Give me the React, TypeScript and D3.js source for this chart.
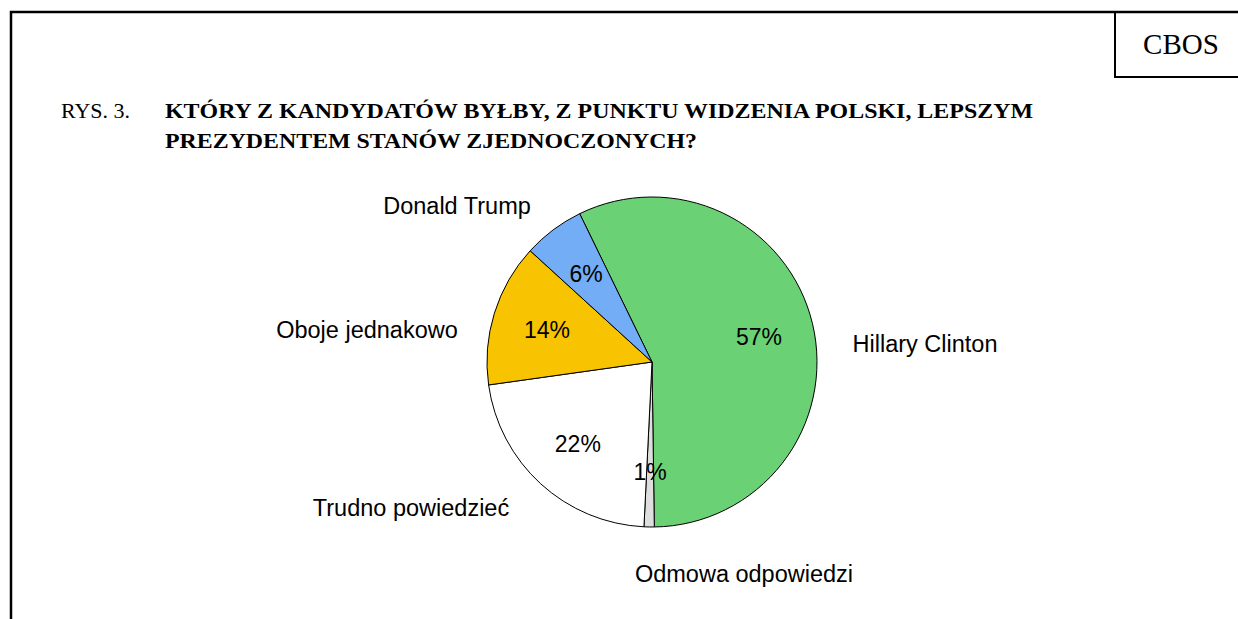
import React, { useEffect, useRef } from 'react'
import * as d3 from 'd3'

// Dane (CBOS, RYS. 3.)
const categories = ['Hillary Clinton', 'Odmowa odpowiedzi', 'Trudno powiedzieć', 'Oboje jednakowo', 'Donald Trump']
const values = [57, 1, 22, 14, 6]
const colors = ['#6ad175', '#dedede', '#ffffff', '#f8c300', '#72adf6']

const titleLines = ['KTÓRY Z KANDYDATÓW BYŁBY, Z PUNKTU WIDZENIA POLSKI, LEPSZYM', 'PREZYDENTEM STANÓW ZJEDNOCZONYCH?']
const titleWidths = [868, 532]

// położenie etykiet kategorii (środek tekstu, linia bazowa) względem środka koła
const labelOffsets = [
  [273, -10],
  [92, 220],
  [-241, 154],
  [-285, -24],
  [-195, -148],
]

const App = () => {
  const ref = useRef(null)

  useEffect(() => {
    const width = 1238,
      height = 619,
      cx = 652,
      cy = 362,
      r = 165

    const svg = d3.select(ref.current)
    svg.selectAll('*').remove()

    const serif = '"Liberation Serif", "Times New Roman", serif'
    const sans = '"Liberation Sans", Arial, sans-serif'

    // ramka
    svg.append('path')
      .attr('d', `M11,${height} V12 H${width}`)
      .attr('fill', 'none')
      .attr('stroke', '#000')
      .attr('stroke-width', 2.5)
    svg.append('path')
      .attr('d', `M1115,12 V77 H${width}`)
      .attr('fill', 'none')
      .attr('stroke', '#000')
      .attr('stroke-width', 2)
    svg.append('text')
      .attr('x', 1181)
      .attr('y', 54)
      .attr('text-anchor', 'middle')
      .attr('font-family', serif)
      .attr('font-size', 29)
      .text('CBOS')

    // tytuł
    svg.append('text')
      .attr('x', 61)
      .attr('y', 118)
      .attr('font-family', serif)
      .attr('font-size', 22)
      .text('RYS. 3.')
    svg.selectAll('text.title')
      .data(titleLines)
      .join('text')
      .attr('class', 'title')
      .attr('x', 165)
      .attr('y', (d, i) => 118 + i * 30)
      .attr('font-family', serif)
      .attr('font-weight', 'bold')
      .attr('font-size', 22)
      .attr('textLength', (d, i) => titleWidths[i])
      .attr('lengthAdjust', 'spacingAndGlyphs')
      .text(d => d)

    // koło
    const start = -26 * Math.PI / 180
    const pie = d3.pie().sort(null).value(d => d).startAngle(start).endAngle(start + 2 * Math.PI)
    const arcs = pie(values)
    const arc = d3.arc().innerRadius(0).outerRadius(r)

    const g = svg.append('g').attr('transform', `translate(${cx},${cy})`)

    g.selectAll('path')
      .data(arcs)
      .join('path')
      .attr('d', arc)
      .attr('fill', (d, i) => colors[i])
      .attr('stroke', '#000')
      .attr('stroke-width', 1)

    // etykiety procentowe na 2/3 promienia
    const mid = d => (d.startAngle + d.endAngle) / 2
    g.selectAll('text.pct')
      .data(arcs)
      .join('text')
      .attr('class', 'pct')
      .attr('x', d => Math.sin(mid(d)) * r * 2 / 3)
      .attr('y', d => -Math.cos(mid(d)) * r * 2 / 3)
      .attr('dy', '0.36em')
      .attr('text-anchor', 'middle')
      .attr('font-family', sans)
      .attr('font-size', 23)
      .attr('fill', '#000')
      .text(d => `${d.data}%`)

    g.selectAll('text.cat')
      .data(categories)
      .join('text')
      .attr('class', 'cat')
      .attr('x', (d, i) => labelOffsets[i][0])
      .attr('y', (d, i) => labelOffsets[i][1])
      .attr('text-anchor', 'middle')
      .attr('font-family', sans)
      .attr('font-size', 23.5)
      .attr('fill', '#000')
      .text(d => d)
  }, [])

  return <svg ref={ref} width={1238} height={619}
    style={{ position: 'absolute', left: 0, top: 0, background: '#fff' }}></svg>
}

export default App
